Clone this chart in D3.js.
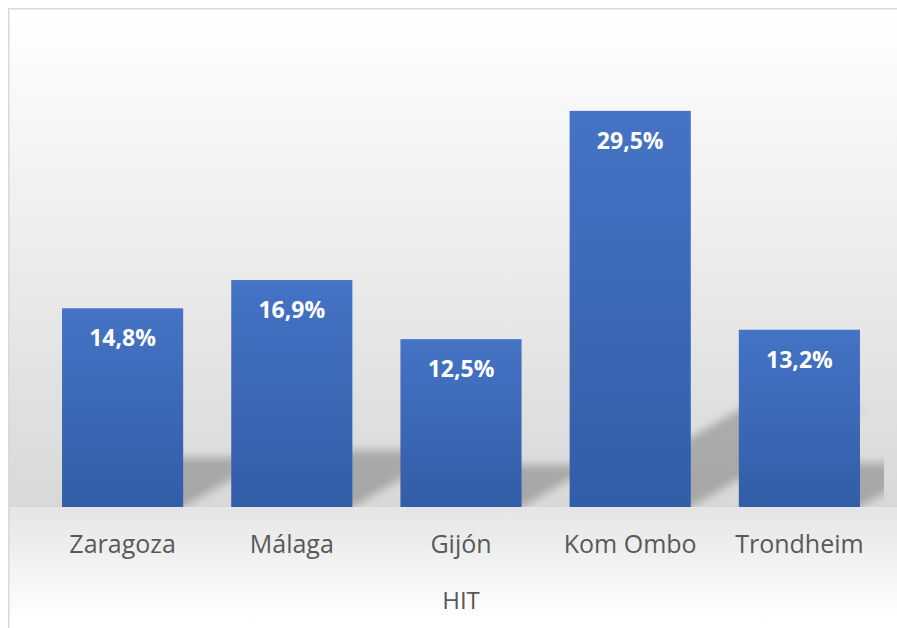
<!DOCTYPE html>
<html>
<head>
<meta charset="utf-8">
<script src="https://cdn.jsdelivr.net/npm/d3@7"></script>
<style>
  body { margin: 0; background: #fff; }
  svg { display: block; font-family: "Open Sans", sans-serif; }
</style>
</head>
<body>
<div id="chart"></div>
<script>
// Data
const cities = ["Zaragoza", "Málaga", "Gijón", "Kom Ombo", "Trondheim"];
const values = [14.8, 16.9, 12.5, 29.5, 13.2];
const axisTitle = "HIT";

const W = 897, H = 628;
const plot = { left: 38, right: 884, top: 37, bottom: 507 };

const svg = d3.select("#chart")
    .append("svg")
    .attr("width", W)
    .attr("height", H);

const defs = svg.append("defs");

// background gradients
const wall = defs.append("linearGradient")
    .attr("id", "wall")
    .attr("gradientUnits", "userSpaceOnUse")
    .attr("x1", 0).attr("y1", 8).attr("x2", 0).attr("y2", plot.bottom);
wall.append("stop").attr("offset", 0).attr("stop-color", "#ffffff");
wall.append("stop").attr("offset", 1).attr("stop-color", "#d8d8d8");

const floor = defs.append("linearGradient")
    .attr("id", "floor")
    .attr("gradientUnits", "userSpaceOnUse")
    .attr("x1", 0).attr("y1", plot.bottom).attr("x2", 0).attr("y2", 620);
floor.append("stop").attr("offset", 0).attr("stop-color", "#e5e5e5");
floor.append("stop").attr("offset", 1).attr("stop-color", "#ffffff");

const barGrad = defs.append("linearGradient")
    .attr("id", "barGrad")
    .attr("x1", 0).attr("y1", 0).attr("x2", 0).attr("y2", 1);
barGrad.append("stop").attr("offset", 0).attr("stop-color", "#4573c5");
barGrad.append("stop").attr("offset", 1).attr("stop-color", "#325da7");

defs.append("filter")
    .attr("id", "blur")
    .attr("x", "-20%").attr("y", "-40%").attr("width", "140%").attr("height", "180%")
    .append("feGaussianBlur")
    .attr("stdDeviation", 4);

defs.append("clipPath")
    .attr("id", "plotClip")
    .append("rect")
    .attr("x", plot.left)
    .attr("y", 0)
    .attr("width", plot.right - plot.left)
    .attr("height", plot.bottom);

// chart area
svg.append("rect")
    .attr("x", 8).attr("y", 8)
    .attr("width", W).attr("height", plot.bottom - 8)
    .attr("fill", "url(#wall)");

svg.append("rect")
    .attr("x", 8).attr("y", plot.bottom)
    .attr("width", W).attr("height", H - plot.bottom)
    .attr("fill", "url(#floor)");

svg.append("path")
    .attr("d", `M8.75,${H} V8.75 H${W}`)
    .attr("fill", "none")
    .attr("stroke", "#d9d9d9")
    .attr("stroke-width", 1.5);

// Scales
const x = d3.scaleBand()
    .domain(cities)
    .range([plot.left, plot.right])
    .paddingInner(0.284)
    .paddingOuter(0.142);

const y = d3.scaleLinear()
    .domain([0, 35])
    .range([plot.bottom, plot.top]);

const data = cities.map((c, i) => ({ city: c, value: values[i] }));

// perspective shadows
const skew = 1.74;
svg.append("g")
    .attr("clip-path", "url(#plotClip)")
    .append("g")
    .attr("filter", "url(#blur)")
    .selectAll("path")
    .data(data)
    .join("path")
    .attr("d", d => {
        const x0 = x(d.city), x1 = x0 + x.bandwidth();
        const s = 0.25 * (y(0) - y(d.value));
        const b = y(0);
        return `M${x0},${b} L${x1},${b} L${x1 + skew * s},${b - s} L${x0 + skew * s},${b - s} Z`;
    })
    .attr("fill", "#000")
    .attr("fill-opacity", 0.23);

// Bars
svg.append("g")
    .selectAll("rect")
    .data(data)
    .join("rect")
    .attr("x", d => x(d.city))
    .attr("y", d => y(d.value))
    .attr("width", x.bandwidth())
    .attr("height", d => y(0) - y(d.value))
    .attr("fill", "url(#barGrad)");

// Value labels
svg.append("g")
    .selectAll("text")
    .data(data)
    .join("text")
    .attr("x", d => x(d.city) + x.bandwidth() / 2)
    .attr("y", d => y(d.value) + 38)
    .attr("text-anchor", "middle")
    .attr("fill", "#fff")
    .attr("font-weight", "bold")
    .attr("font-size", 23)
    .text(d => d.value.toFixed(1).replace(".", ",") + "%");

// x axis
const xAxis = svg.append("g")
    .attr("transform", `translate(0,${plot.bottom})`)
    .call(d3.axisBottom(x).tickSize(0).tickPadding(28));
xAxis.select(".domain").remove();
xAxis.selectAll("text")
    .attr("fill", "#595959")
    .style("font-family", "'Open Sans', sans-serif")
    .style("font-size", "25px");

// axis title
svg.append("text")
    .attr("x", (plot.left + plot.right) / 2)
    .attr("y", 609)
    .attr("text-anchor", "middle")
    .attr("fill", "#595959")
    .attr("font-size", 24)
    .text(axisTitle);
</script>
</body>
</html>
